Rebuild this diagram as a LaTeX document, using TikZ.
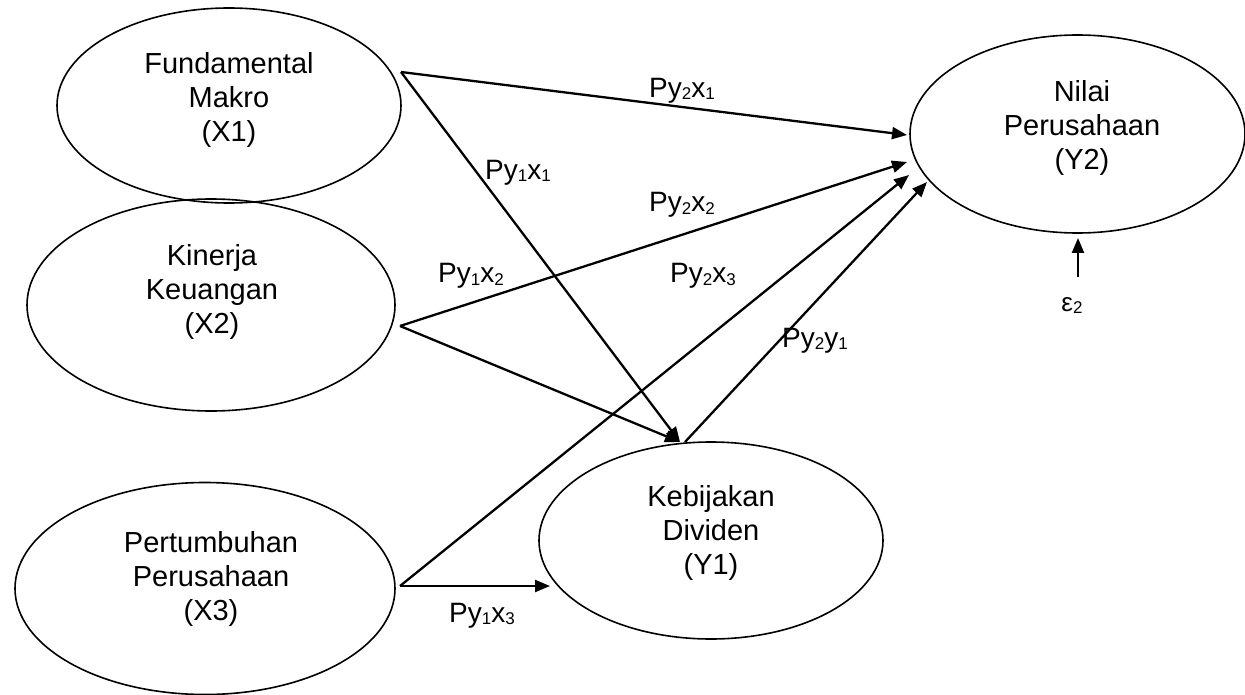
\documentclass[tikz,border=0pt]{standalone}
\usepackage{fontspec}
\setmainfont{Liberation Sans}
\usetikzlibrary{arrows.meta,shapes.geometric,calc}
\newcommand\lsub[1]{\raisebox{-2pt}{\fontsize{17}{17}\selectfont #1}}
\begin{document}
\begin{tikzpicture}[x=1pt,y=-1pt,
  latent/.style={ellipse,draw,line width=1.6pt,inner sep=0pt},
  vtext/.style={align=center,font=\fontsize{29}{34}\selectfont,inner sep=0pt},
  plabel/.style={anchor=base,inner sep=0pt,font=\fontsize{28}{34}\selectfont},
  arr/.style={line width=2.3pt,-{Triangle[length=15pt,width=12pt]}}]
\useasboundingbox (0,0) rectangle (1245,695);
\fill[white] (0,0) rectangle (1245,695);
% latent variables
\node[latent,minimum width=344pt,minimum height=195pt] (x1) at (229,105.5) {};
\node[latent,minimum width=368pt,minimum height=212pt] (x2) at (211,305) {};
\node[latent,minimum width=380pt,minimum height=212pt] (x3) at (205,588.5) {};
\node[latent,minimum width=344pt,minimum height=197pt] (y1) at (711,540.5) {};
\node[latent,minimum width=335pt,minimum height=198pt] (y2) at (1077.5,134) {};
% texts
\node[vtext] (x1t) at (229,99.5) {Fundamental\\Makro\\(X1)};
\node[vtext] (x2t) at (212,291.5) {Kinerja\\Keuangan\\(X2)};
\node[vtext] (x3t) at (211,578.5) {Pertumbuhan\\Perusahaan\\(X3)};
\node[vtext] (y1t) at (711,532.5) {Kebijakan\\Dividen\\(Y1)};
\node[vtext] (y2t) at (1082,127.5) {Nilai\\Perusahaan\\(Y2)};
% start points of the paths
\coordinate (x1o) at ($(x1.center)+(172,-33.5)$);
\coordinate (x2o) at ($(x2.center)+(189,21)$);
\coordinate (x3o) at ($(x3.center)+(195,-2.5)$);
% connectors
\draw[arr] (x1o) -- ($(y2.center)+(-170.5,1)$);
\draw[arr] (x1o) -- ($(y1.center)+(-31,-98.5)$);
\draw[arr] (x2o) -- ($(y2.center)+(-170.5,28)$);
\draw[arr] (x2o) -- ($(y1.center)+(-31,-98.5)$);
\draw[arr] (x3o) -- ($(y2.center)+(-168.5,41)$);
\draw[arr] (x3o) -- ($(y1.center)+(-161,45.5)$);
\draw[arr] ($(y1.center)+(-26,-98.5)$) -- ($(y2.center)+(-150.5,48)$);
% error term
\node[anchor=base,inner sep=0pt,font=\fontsize{26}{30}\selectfont] (eps) at (1072,311) {ε\lsub{2}};
\coordinate (epst) at ($(y2.center)+(0.5,143)$);
\draw[arr] (epst) -- ($(y2.center)+(0.5,104)$);
% path labels
\node[plabel] (l1) at (682,98) {Py\lsub{2}x\lsub{1}};
\node[plabel] (l2) at (518,180) {Py\lsub{1}x\lsub{1}};
\node[plabel] (l3) at (682,212) {Py\lsub{2}x\lsub{2}};
\node[plabel] (l4) at (471,283) {Py\lsub{1}x\lsub{2}};
\node[plabel] (l5) at (703,283) {Py\lsub{2}x\lsub{3}};
\node[plabel] (l6) at (815,347) {Py\lsub{2}y\lsub{1}};
\node[plabel] (l7) at (482,622) {Py\lsub{1}x\lsub{3}};
\end{tikzpicture}
\end{document}
